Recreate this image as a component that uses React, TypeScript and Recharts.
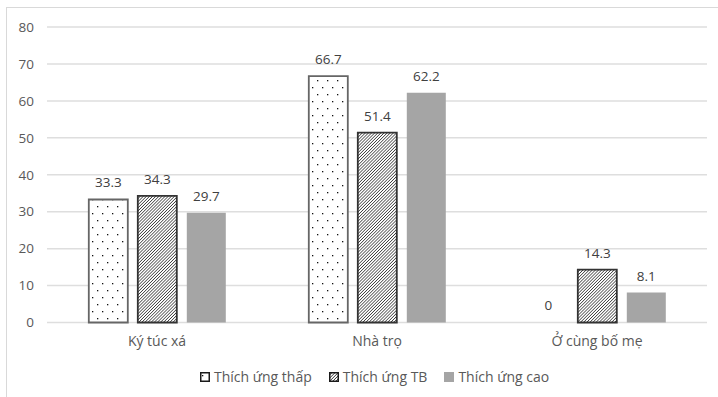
import { BarChart, Bar, XAxis, YAxis, CartesianGrid, LabelList, Cell } from 'recharts';

const categories = ['Ký túc xá', 'Nhà trọ', 'Ở cùng bố mẹ'];
const thichUngThap = [33.3, 66.7, 0];
const thichUngTB = [34.3, 51.4, 14.3];
const thichUngCao = [29.7, 62.2, 8.1];
const yTicks = [0, 10, 20, 30, 40, 50, 60, 70, 80];

const SERIES = [
  { key: 'thap', name: 'Thích ứng thấp', fill: 'url(#dotFill)', stroke: '#666666', values: thichUngThap },
  { key: 'tb', name: 'Thích ứng TB', fill: 'url(#hatchFill)', stroke: '#333333', values: thichUngTB },
  { key: 'cao', name: 'Thích ứng cao', fill: '#a5a5a5', stroke: 'none', values: thichUngCao },
];

const data = categories.map((c, i) => ({
  cat: c,
  thap: thichUngThap[i],
  tb: thichUngTB[i],
  cao: thichUngCao[i],
}));

const FONT = '"Open Sans", "Noto Sans", sans-serif';
const TEXT = '#595959';

// Shared fill patterns, used by the bars and the legend swatches
function Patterns() {
  return (
    <svg width={0} height={0} style={{ position: 'absolute' }}>
      <defs>
        <pattern id="dotFill" width={10} height={14} patternUnits="userSpaceOnUse">
          <rect width={10} height={14} fill="#fff" />
          <rect x={2} y={3} width={1.3} height={1.3} fill="#111" />
          <rect x={7} y={10} width={1.3} height={1.3} fill="#111" />
        </pattern>
        <pattern id="hatchFill" width={2.2} height={2.2} patternUnits="userSpaceOnUse" patternTransform="rotate(45)">
          <rect width={2.2} height={2.2} fill="#fff" />
          <line x1={0} y1={0} x2={0} y2={2.2} stroke="#111" strokeWidth={1.2} />
        </pattern>
      </defs>
    </svg>
  );
}

function LegendRow() {
  return (
    <div style={{
      position: 'absolute', left: 200, top: 368, display: 'flex', gap: 17,
      fontFamily: FONT, fontSize: 14, color: TEXT, lineHeight: '18px',
    }}>
      {SERIES.map((s) => (
        <div key={s.key} style={{ display: 'flex', alignItems: 'center', gap: 4 }}>
          <svg width={10} height={10}>
            <rect
              x={0.75} y={0.75} width={8.5} height={8.5}
              fill={s.fill}
              stroke={s.stroke === 'none' ? '#a5a5a5' : '#1a1a1a'}
              strokeWidth={1.5}
            />
          </svg>
          <span>{s.name}</span>
        </div>
      ))}
    </div>
  );
}

export default function App() {
  return (
    <div style={{ position: 'fixed', left: 0, top: 0, width: 718, height: 397, overflow: 'hidden', background: '#fff' }}>
      <Patterns />
      <div style={{ position: 'absolute', left: 6, top: 7, width: 730, height: 420, border: '1px solid #d9d9d9' }} />
      <div style={{ position: 'absolute', left: 0, top: 0 }}>
        <BarChart
          width={718}
          height={397}
          data={data}
          margin={{ top: 27, right: 11, left: 0, bottom: 44.5 }}
          barCategoryGap="19%"
          barGap={10}
        >
          <CartesianGrid stroke="#dedede" strokeWidth={1.5} vertical={false} />
          <XAxis
            dataKey="cat"
            height={30}
            axisLine={false}
            tickLine={false}
            tickMargin={8}
            tick={{ fontSize: 14, fontFamily: FONT, fill: TEXT }}
          />
          <YAxis
            width={47}
            domain={[0, 80]}
            ticks={yTicks}
            axisLine={false}
            tickLine={false}
            tickMargin={7}
            tick={{ fontSize: 13.5, fontFamily: FONT, fill: TEXT }}
          />
          {SERIES.map((s) => (
            <Bar
              key={s.key}
              dataKey={s.key}
              name={s.name}
              fill={s.fill}
              stroke={s.stroke}
              strokeWidth={1.8}
              // zero-valued bars keep a sliver so their "0" label still gets placed
              minPointSize={(v) => (v === 0 ? 0.01 : 0)}
              isAnimationActive={false}
            >
              {s.values.map((v, i) => (
                <Cell key={i} stroke={v === 0 ? 'none' : s.stroke} fill={v === 0 ? 'none' : s.fill} />
              ))}
              <LabelList
                dataKey={s.key}
                position="top"
                offset={12}
                style={{ fontSize: 13.5, fontFamily: FONT, fill: '#404040' }}
              />
            </Bar>
          ))}
        </BarChart>
      </div>
      <LegendRow />
    </div>
  );
}
